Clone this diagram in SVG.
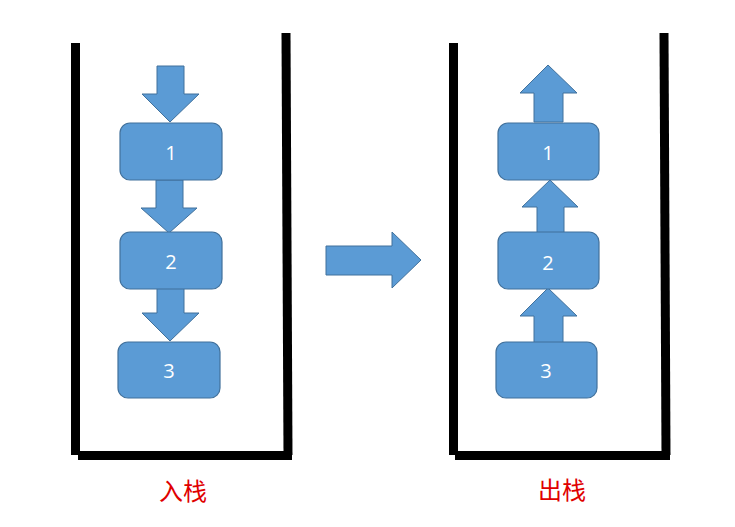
<svg xmlns="http://www.w3.org/2000/svg" width="735" height="527" viewBox="0 0 735 527">
<style>
.wall{stroke:#000;stroke-width:9;fill:none;stroke-linecap:butt}
.box{fill:#5B9BD5;stroke:#41719C;stroke-width:1.2}
.arr{fill:#5B9BD5;stroke:#41719C;stroke-width:1}
.num{font-family:"Open Sans","Liberation Sans",sans-serif;font-size:20px;fill:#fff;text-anchor:middle;dominant-baseline:central}
.lbl{font-family:"Noto Sans CJK SC",sans-serif;font-size:24px;fill:#E00000;text-anchor:middle;dominant-baseline:central}
</style>
<rect width="735" height="527" fill="#fff"/>
<g id="stack-left">
<path class="wall" d="M75.5,43 V455"/>
<path class="wall" d="M286,33 L288,455"/>
<path class="wall" d="M78,455.5 H292"/>
</g>
<g id="stack-right">
<path class="wall" d="M453.5,43 V455"/>
<path class="wall" d="M664,33 L666,455"/>
<path class="wall" d="M455,455.5 H670"/>
</g>
<g id="connectors">
<path class="arr" d="M157,66 H184 V94 H199 L170,122 L142,94 H157 Z"/>
<path class="arr" d="M156,180 H183 V208 H197 L169,233 L141,208 H156 Z"/>
<path class="arr" d="M157,285 H184 V313 H199 L170,341 L142,313 H157 Z"/>
<path class="arr" d="M534,122 V93 H520 L548,65 L577,93 H563 V122 Z"/>
<path class="arr" d="M537,235 V207 H522 L550,180 L578,207 H564 V235 Z"/>
<path class="arr" d="M534,343 V316 H520 L548,288 L577,316 H563 V343 Z"/>
<path class="arr" d="M326,246 H392 V232 L421,260 L392,288 V275 H326 Z"/>
</g>
<g id="in-1"><rect class="box" x="120" y="123" width="102" height="57" rx="10"/><text class="num" x="171" y="152">1</text></g>
<g id="in-2"><rect class="box" x="120" y="232" width="102" height="57" rx="10"/><text class="num" x="171" y="261">2</text></g>
<g id="in-3"><rect class="box" x="118" y="342" width="102" height="56" rx="10"/><text class="num" x="169" y="370">3</text></g>
<g id="out-1"><rect class="box" x="498" y="123" width="101" height="57" rx="10"/><text class="num" x="548" y="152">1</text></g>
<g id="out-2"><rect class="box" x="498" y="232" width="101" height="57" rx="10"/><text class="num" x="548" y="262">2</text></g>
<g id="out-3"><rect class="box" x="496" y="342" width="101" height="56" rx="10"/><text class="num" x="546" y="370">3</text></g>
<g id="label-in"><text class="lbl" x="183" y="489">入栈</text></g>
<g id="label-out"><text class="lbl" x="562" y="488">出栈</text></g>
</svg>
